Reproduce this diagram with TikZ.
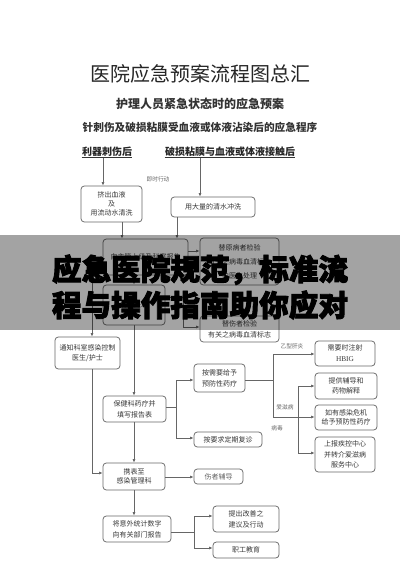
\documentclass[tikz,border=0pt]{standalone}
\usepackage{fontspec}
\setmainfont{Noto Sans CJK SC}
\newfontfamily\heavy{Noto Sans CJK SC}[BoldFeatures={FakeBold=3}]
\newfontfamily\serifl{Liberation Serif}
\usetikzlibrary{arrows.meta}
\begin{document}
\begin{tikzpicture}[x=0.75pt,y=-0.75pt,
  ln/.style={draw=black!60, line width=0.5pt},
  arr/.style={ln, -{Latex[length=2.6pt,width=2.2pt]}},
  box/.style={draw=black!60, line width=0.55pt, rounded corners=2.5pt, inner sep=0pt, align=center, font=\fontsize{5.25}{8.25}\selectfont, text=black!78},
  head/.style={font=\fontsize{7.5}{8}\selectfont\bfseries, text=black!85, inner xsep=0pt, inner ysep=0.8pt, anchor=south},
  lbl/.style={font=\fontsize{4.3}{5}\selectfont, text=black!60, inner sep=0pt},
]
\useasboundingbox (0,0) rectangle (400,566);
\fill[white] (0,0) rectangle (400,566);

% titles
\node[font=\fontsize{15}{15}\selectfont, text=black!85] (title) at (200,74) {医院应急预案流程图总汇};
\node[font=\fontsize{9}{9}\selectfont\bfseries, text=black!80] (sub1) at (200,104) {护理人员紧急状态时的应急预案};
\node[font=\fontsize{8}{8}\selectfont\bfseries, text=black!80] (sub2) at (200,127) {针刺伤及破损粘膜受血液或体液沾染后的应急程序};

% headings
\node[head] (h1) at (107,158) {利器刺伤后};
\node[head] (h2) at (230,158) {破损粘膜与血液或体液接触后};
\draw[black!80, line width=0.75pt] (h1.south west) -- (h1.south east);
\draw[black!80, line width=0.75pt] (h2.south west) -- (h2.south east);

% boxes
\node[box, minimum width=45.75pt, minimum height=27pt, font=\fontsize{5.25}{6.5}\selectfont] (b1) at (111.5,204) {挤出血液\\及\\用流动水清洗};
\node[box, minimum width=63pt, minimum height=15pt] (b2) at (213,207) {用大量的清水冲洗};
\node[box, minimum width=63.75pt, minimum height=27pt] (bA) at (145.5,257) {向主管上级及科室报告};
\node[box, minimum width=59.25pt, minimum height=35.25pt, font=\fontsize{5.25}{10.5}\selectfont] (bB) at (239.5,261.5) {替原病者检验\\有关之病毒血清标志\\由医生处理};
\node[box, minimum width=46.5pt, minimum height=30pt] (bC) at (134,305) {伤口处理};
\node[box, minimum width=59.25pt, minimum height=19.5pt] (bD) at (239.5,329) {替伤者检验\\有关之病毒血清标志};
\node[box, minimum width=48.75pt, minimum height=24pt, font=\fontsize{5.25}{7.5}\selectfont] (bN) at (87.5,353) {通知科室感染控制\\医生/护士};
\node[box, minimum width=47.25pt, minimum height=19.5pt] (bP) at (134.5,409) {保健科药疗并\\填写报告表};
\node[box, minimum width=38.25pt, minimum height=21pt] (bQ) at (219.5,378) {按需要给予\\预防性药疗};
\node[box, minimum width=51pt, minimum height=11.25pt] (bR) at (228,439.5) {按要求定期复诊};
\node[box, minimum width=45pt, minimum height=18.75pt] (bS1) at (345,353.5) {需要时注射\\{\serifl\fontsize{5.5}{8.25}\selectfont HBIG}};
\node[box, minimum width=46.5pt, minimum height=19.5pt, font=\fontsize{5.25}{7.5}\selectfont] (bS2) at (346,386) {提供辅导和\\药物解释};
\node[box, minimum width=46.5pt, minimum height=18.75pt, font=\fontsize{5.25}{7}\selectfont] (bS3) at (346,417.5) {如有感染危机\\给予预防性药疗};
\node[box, minimum width=45pt, minimum height=26.25pt, font=\fontsize{5.25}{8}\selectfont] (bS4) at (345,454.5) {上报疾控中心\\并转介爱滋病\\服务中心};
\node[box, minimum width=46.5pt, minimum height=20.25pt, font=\fontsize{5.25}{6.9}\selectfont] (bT) at (134,476.5) {携表至\\感染管理科};
\node[box, minimum width=36.75pt, minimum height=11.25pt, text=black!60] (bU) at (218.5,476.5) {伤者辅导};
\node[box, minimum width=51pt, minimum height=19.5pt] (bV) at (137,529) {将意外统计数字\\向有关部门报告};
\node[box, minimum width=49.5pt, minimum height=19.5pt] (bW) at (246,519) {提出改善之\\建议及行动};
\node[box, minimum width=49.5pt, minimum height=12pt] (bX) at (246,550) {职工教育};

% labels
\node[lbl] (l1) at (158,179) {即时行动};
\node[lbl] (l2) at (292,346) {乙型肝炎};
\node[lbl] (l3) at (285,407) {爱滋病};
\node[lbl] (l4) at (277,428) {病毒};

% helper coordinates
\coordinate (v103) at (103,0);
\coordinate (v200) at (200,0);
\coordinate (v122) at (122,0);
\coordinate (v177) at (177,0);
\coordinate (v134) at (134,0);
\coordinate (h251) at (0,251);
\coordinate (jA) at (92,272);
\coordinate (jC1) at (183,297);
\coordinate (jC2) at (183,327);
\coordinate (jP1) at (176,407);
\coordinate (jP2) at (176,380);
\coordinate (jP3) at (176,438);
\coordinate (jQ1) at (273,380);
\coordinate (jQ2) at (273,354);
\coordinate (jQ3) at (273,417);
\coordinate (jH) at (298,417);
\coordinate (jH1) at (298,386);
\coordinate (jH2) at (298,453);
\coordinate (jN) at (92,473);
\coordinate (h477) at (0,477);
\coordinate (jV1) at (194,532);
\coordinate (jV2) at (194,516);
\coordinate (jV3) at (194,548);

% connectors
\draw[arr] (h1.south -| v103) -- (b1.north -| v103);
\draw[arr] (h2.south -| v200) -- (b2.north -| v200);
\draw[arr] (b1.south -| v122) -- (bA.north -| v122);
\draw[arr] (b2.south -| v177) -- (bA.north -| v177);
\draw[arr] (bA.east |- h251) -- (bB.west |- h251);
\draw[arr] (bA.south -| v134) -- (bC.north -| v134);
\draw[arr] (bA.west |- jA) -- (jA) -- (bN.north -| jA);
\draw[arr] (bC.east |- jC1) -- (jC1) -- (jC2) -- (bD.west |- jC2);
\draw[arr] (bC.south -| v134) -- (bP.north -| v134);
\draw[ln] (bP.east |- jP1) -- (jP1);
\draw[arr] (jP1) -- (jP2) -- (bQ.west |- jP2);
\draw[arr] (jP1) -- (jP3) -- (bR.west |- jP3);
\draw[ln] (bQ.east |- jQ1) -- (jQ1);
\draw[arr] (jQ1) -- (jQ2) -- (bS1.west |- jQ2);
\draw[arr] (jQ1) -- (jQ3) -- (bS3.west |- jQ3);
\draw[arr] (jH) -- (jH1) -- (bS2.west |- jH1);
\draw[arr] (jH) -- (jH2) -- (bS4.west |- jH2);
\draw[arr] (bN.south -| jN) -- (jN) -- (bT.west |- jN);
\draw[arr] (bP.south -| v134) -- (bT.north -| v134);
\draw[arr] (bT.east |- h477) -- (bU.west |- h477);
\draw[arr] (bT.south -| v134) -- (bV.north -| v134);
\draw[ln] (bV.east |- jV1) -- (jV1);
\draw[arr] (jV1) -- (jV2) -- (bW.west |- jV2);
\draw[arr] (jV1) -- (jV3) -- (bX.west |- jV3);

% overlay band
\fill[black, opacity=0.36] (0,235) rectangle (400,330);
\node[font=\heavy\bfseries\fontsize{22.2}{27}\selectfont, align=center, inner sep=0pt, text=black] (ov) at (200,287) {应急医院规范，标准流\\程与操作指南助你应对};
\end{tikzpicture}
\end{document}
